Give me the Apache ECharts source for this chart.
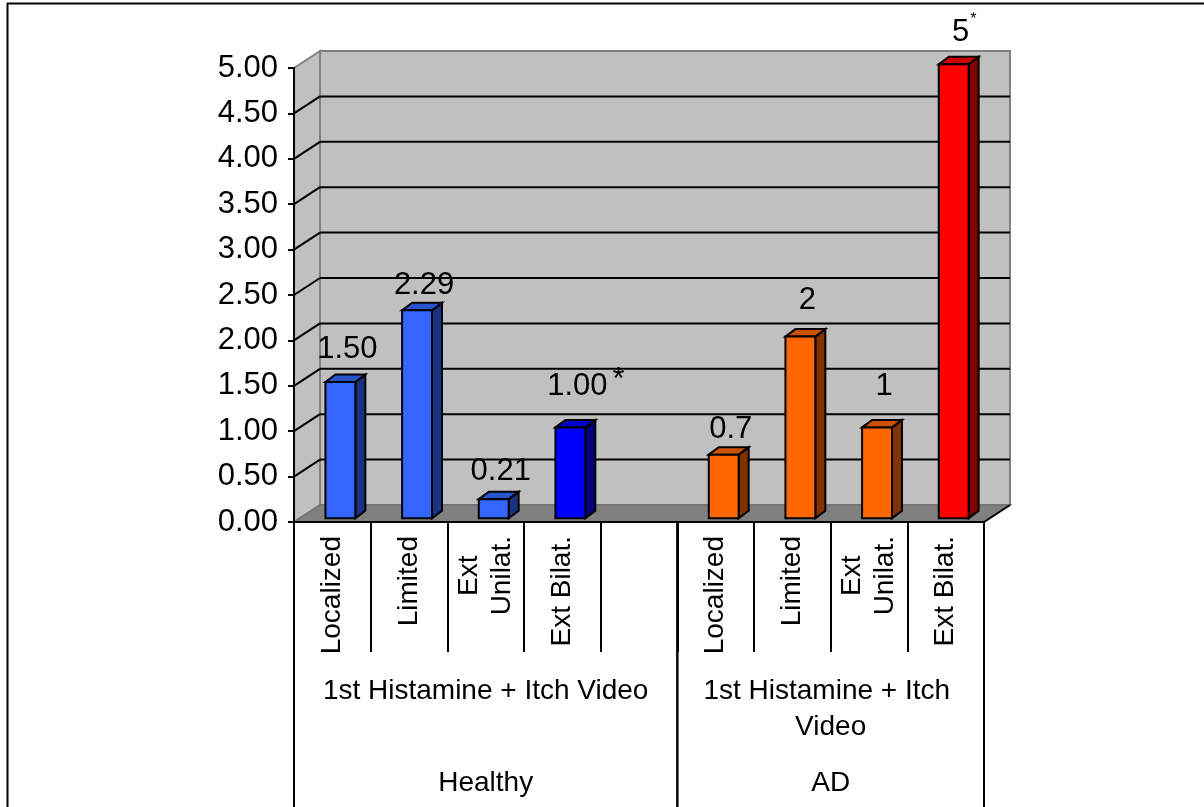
<!DOCTYPE html>
<html>
<head>
<meta charset="utf-8">
<script src="https://cdn.jsdelivr.net/npm/echarts@6/dist/echarts.min.js"></script>
<style>
  html, body { margin: 0; padding: 0; background: #fff; }
  #chart { width: 1204px; height: 807px; }
</style>
</head>
<body>
<div id="chart"></div>
<script>
// ---- data ----
const categories = ['Localized', 'Limited', 'Ext\nUnilat.', 'Ext Bilat.', '',
                    'Localized', 'Limited', 'Ext\nUnilat.', 'Ext Bilat.'];
const healthyValues = [1.50, 2.29, 0.21, 1.00];
const adValues = [0.7, 2, 1, 5];
const healthyMarks = ['', '', '', '*'];
const adMarks = ['', '', '', '*'];
const conditionLabels = ['1st Histamine + Itch Video', '1st Histamine + Itch Video'];
const groupLabels = ['Healthy', 'AD'];
const groupSpans = [[0, 4], [5, 8]];     // first / last category index of each group
const healthyStart = 0;
const adStart = 5;
const yMin = 0, yMax = 5, yStep = 0.5;

// ---- styles ----
const healthyColors = ['#3366FF', '#3366FF', '#3366FF', '#0000FF'];
const adColors = ['#FF6600', '#FF6600', '#FF6600', '#FF0000'];
// distance between each value label and the top of its bar
const healthyLabelGap = [14, 6, 9, 22];
const adLabelGap = [7, 17.6, 22.6, 13.6];

const FONT = '"Liberation Sans", Arial, Helvetica, sans-serif';
const AXIS_FONT = 31;
const CAT_FONT = 28;
const LABEL_FONT = 31;
const WALL_DEPTH = [26, -17];      // offset of back wall from the axis plane
const BAR_SHIFT = -3.8;            // bar fronts sit a little behind the axis plane
const BAR_DEPTH = [10, -7.5];
const BAR_LEFT = 0.41, BAR_WIDTH = 0.39;   // fractions of a category band
const GRID_COLOR = '#000';
const WALL_COLOR = '#C0C0C0';
const FLOOR_COLOR = '#808080';

const measureCtx = document.createElement('canvas').getContext('2d');
function textWidth(str, size) {
  measureCtx.font = size + 'px ' + FONT;
  return measureCtx.measureText(str).width;
}
function shade(hex, k) {
  const n = parseInt(hex.slice(1), 16);
  const r = Math.round(((n >> 16) & 255) * k);
  const g = Math.round(((n >> 8) & 255) * k);
  const b = Math.round((n & 255) * k);
  return 'rgb(' + r + ',' + g + ',' + b + ')';
}

// walls, floor and gridlines of the 3-D box
function renderFrame(params, api) {
  const bw = api.size([1, 0])[0];
  const x0 = api.coord([0, yMin])[0] - bw / 2;
  const x1 = api.coord([categories.length - 1, yMin])[0] + bw / 2;
  const y0 = api.coord([0, yMin])[1];
  const yT = api.coord([0, yMax])[1];
  const [dx, dy] = WALL_DEPTH;
  const children = [
    { type: 'rect', shape: { x: x0 + dx, y: yT + dy, width: x1 - x0, height: y0 - yT },
      style: { fill: WALL_COLOR, stroke: '#808080', lineWidth: 2 } },
    { type: 'polygon', shape: { points: [[x0, yT], [x0 + dx, yT + dy], [x0 + dx, y0 + dy], [x0, y0]] },
      style: { fill: WALL_COLOR, stroke: '#808080', lineWidth: 2 } },
    { type: 'polygon', shape: { points: [[x0, y0], [x0 + dx, y0 + dy], [x1 + dx, y0 + dy], [x1, y0]] },
      style: { fill: FLOOR_COLOR, stroke: '#707070', lineWidth: 1.5 } },
    { type: 'line', shape: { x1: x1, y1: y0, x2: x1 + dx, y2: y0 + dy },
      style: { stroke: '#000', lineWidth: 2 } }
  ];
  for (let v = yMin + yStep; v < yMax - 1e-9; v += yStep) {
    const y = api.coord([0, v])[1];
    children.push({ type: 'line', shape: { x1: x0 + dx, y1: y + dy, x2: x1 + dx, y2: y + dy },
      style: { stroke: GRID_COLOR, lineWidth: 2 } });
    children.push({ type: 'line', shape: { x1: x0, y1: y, x2: x0 + dx, y2: y + dy },
      style: { stroke: GRID_COLOR, lineWidth: 2 } });
  }
  return { type: 'group', children };
}

// group dividers and the two lower rows of category labels
function renderGroups(params, api) {
  const i = api.value(2);
  const bw = api.size([1, 0])[0];
  const a = api.coord([api.value(0), yMin]);
  const b = api.coord([api.value(1), yMin]);
  const left = a[0] - bw / 2, right = b[0] + bw / 2;
  const axisY = a[1];
  const bottom = api.getHeight();
  const cx = (left + right) / 2;
  return {
    type: 'group',
    children: [
      { type: 'line', shape: { x1: left, y1: axisY, x2: left, y2: bottom }, style: { stroke: '#000', lineWidth: 2 } },
      { type: 'line', shape: { x1: right, y1: axisY, x2: right, y2: bottom }, style: { stroke: '#000', lineWidth: 2 } },
      { type: 'text', style: { text: conditionLabels[i], x: cx, y: axisY + 151, align: 'center', verticalAlign: 'top',
          width: right - left - 20, overflow: 'break', lineHeight: 36,
          fontSize: CAT_FONT, fontFamily: FONT, fill: '#000' } },
      { type: 'text', style: { text: groupLabels[i], x: cx, y: axisY + 261, align: 'center', verticalAlign: 'middle',
          fontSize: CAT_FONT, fontFamily: FONT, fill: '#000' } }
    ]
  };
}

function barSeries(name, start, values, colors, marks, gaps, fmt, markStyle) {
  return {
    type: 'custom',
    name: name,
    coordinateSystem: 'cartesian2d',
    clip: false,
    z: 3,
    encode: { x: 0, y: 1 },
    data: values.map((v, k) => [start + k, v, k]),
    renderItem(params, api) {
      const ci = api.value(0), v = api.value(1), k = api.value(2);
      const bw = api.size([1, 0])[0];
      const p0 = api.coord([ci, yMin]);
      const p1 = api.coord([ci, v]);
      const L = p0[0] - bw / 2 + BAR_LEFT * bw;
      const R = L + BAR_WIDTH * bw;
      const T = p1[1] + BAR_SHIFT, B = p0[1] + BAR_SHIFT;
      const [dx, dy] = BAR_DEPTH;
      const c = colors[k];
      const line = { stroke: '#000', lineWidth: 2, lineJoin: 'miter' };
      const children = [
        { type: 'polygon', shape: { points: [[R, T], [R + dx, T + dy], [R + dx, B + dy], [R, B]] },
          style: Object.assign({ fill: shade(c, 0.5) }, line) },
        { type: 'polygon', shape: { points: [[L, T], [L + dx, T + dy], [R + dx, T + dy], [R, T]] },
          style: Object.assign({ fill: shade(c, 0.8) }, line) },
        { type: 'rect', shape: { x: L, y: T, width: R - L, height: B - T },
          style: Object.assign({ fill: c }, line) }
      ];
      const label = fmt(v);
      const cx = (L + R) / 2 + 7;
      const dc = T + dy - gaps[k] - 0.358 * LABEL_FONT;
      children.push({ type: 'text', style: { text: label, x: cx, y: dc, align: 'center', verticalAlign: 'middle',
        fontSize: LABEL_FONT, fontFamily: FONT, fill: '#000' } });
      if (marks[k]) {
        const w = textWidth(label, LABEL_FONT);
        children.push({ type: 'text', style: { text: marks[k], x: cx + w / 2 + markStyle.gap, y: dc + markStyle.lift,
          align: 'left', verticalAlign: 'middle', fontSize: markStyle.size, fontFamily: FONT, fill: '#000' } });
      }
      return { type: 'group', children };
    }
  };
}

const chart = echarts.init(document.getElementById('chart'), null, { renderer: 'canvas' });
chart.setOption({
  animation: false,
  backgroundColor: '#fff',
  graphic: [
    { type: 'line', shape: { x1: 7, y1: 3.5, x2: 1204, y2: 3.5 }, style: { stroke: '#000', lineWidth: 2 }, z: 20 },
    { type: 'line', shape: { x1: 7.5, y1: 3, x2: 7.5, y2: 807 }, style: { stroke: '#000', lineWidth: 2 }, z: 20 }
  ],
  grid: { left: 294, right: 220, top: 68, bottom: 285, containLabel: false },
  xAxis: {
    type: 'category',
    data: categories,
    boundaryGap: true,
    z: 10,
    axisLine: { show: true, lineStyle: { color: '#000', width: 2 } },
    axisTick: { show: true, interval: 0, length: 130, inside: false, lineStyle: { color: '#000', width: 2 } },
    axisLabel: {
      interval: 0, rotate: 90, margin: 14, color: '#000', fontSize: CAT_FONT,
      fontFamily: FONT, lineHeight: 33,
      // wrapped labels keep each line centred on the longest one
      formatter: v => v.split('\n').map(s => '{c|' + s + '}').join('\n'),
      rich: { c: { align: 'center', color: '#000', fontSize: CAT_FONT, fontFamily: FONT, lineHeight: 33 } }
    },
    splitLine: { show: false }
  },
  yAxis: {
    type: 'value',
    min: yMin, max: yMax, interval: yStep,
    z: 10,
    axisLine: { show: true, lineStyle: { color: '#000', width: 2 } },
    axisTick: { show: true, length: 6, inside: false, lineStyle: { color: '#000', width: 2 } },
    axisLabel: { margin: 16, color: '#000', fontSize: AXIS_FONT, fontFamily: FONT,
                 formatter: v => v.toFixed(2) },
    splitLine: { show: false }
  },
  series: [
    { type: 'custom', name: 'frame', coordinateSystem: 'cartesian2d', clip: false, z: 1, silent: true,
      data: [[0, 0]], renderItem: renderFrame },
    { type: 'custom', name: 'groups', coordinateSystem: 'cartesian2d', clip: false, z: 1, silent: true,
      data: groupSpans.map((s, i) => [s[0], s[1], i]), encode: { x: 0, y: 2 }, renderItem: renderGroups },
    barSeries('Healthy', healthyStart, healthyValues, healthyColors, healthyMarks, healthyLabelGap,
              v => v.toFixed(2), { size: LABEL_FONT, gap: 5, lift: -6.8 }),
    barSeries('AD', adStart, adValues, adColors, adMarks, adLabelGap,
              v => String(v), { size: 16, gap: 1, lift: -12.3 })
  ]
});
</script>
</body>
</html>
